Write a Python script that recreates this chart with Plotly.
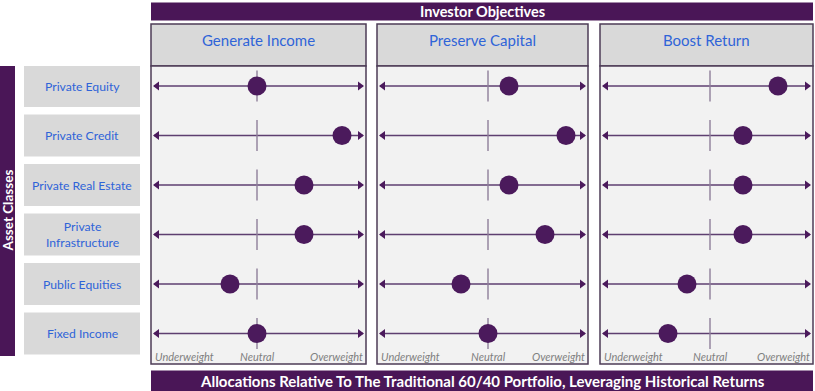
import plotly.graph_objects as go

# ---------------- data ----------------
asset_classes = ["Private Equity", "Private Credit", "Private Real Estate",
                 "Private<br>Infrastructure", "Public Equities", "Fixed Income"]
objectives = ["Generate Income", "Preserve Capital", "Boost Return"]
# allocation relative to neutral (0); ~1 = overweight end, ~-1 = underweight end
generate_income = [0.0, 0.85, 0.47, 0.47, -0.27, 0.0]
preserve_capital = [0.21, 0.78, 0.21, 0.57, -0.27, 0.0]
boost_return = [0.68, 0.33, 0.33, 0.33, -0.23, -0.42]
scale_labels = ["Underweight", "Neutral", "Overweight"]
top_title = "Investor Objectives"
bottom_title = "Allocations Relative To The Traditional 60/40 Portfolio, Leveraging Historical Returns"
side_title = "Asset Classes"

values = [generate_income, preserve_capital, boost_return]

# ---------------- layout helpers ----------------
W, H = 815, 391
def px(x):
    return x / W
def py(y):
    return 1 - y / H

PURPLE = "#4a1657"
DOT = "#4b1a5c"
LINE = "#5e3f70"
TICK = "#8f7f9a"
BLUE = "#2f64d8"
HEADER_BG = "#d9d9d9"
BODY_BG = "#f2f2f2"
BORDER = "#4d3d57"
FONT = "Lato"

panels = [(151, 366, 257), (377, 588, 488), (600, 813, 710)]  # left, right, neutral (px)
body_top, body_bot = 66, 364
head_top = 24
row0, row_step = 86, 49.5
yr = [5 + (body_bot - (row0 + 5 * row_step)) / row_step, -(row0 - body_top) / row_step]

fig = go.Figure()
shapes = []
annotations = []

def ann(**kw):
    kw.setdefault("showarrow", False)
    kw.setdefault("xanchor", "center")
    kw.setdefault("yanchor", "middle")
    annotations.append(kw)

# bars
shapes.append(dict(type="rect", xref="paper", yref="paper", x0=px(151), x1=px(813),
                   y0=py(20.5), y1=py(2.5), fillcolor=PURPLE, line_width=0, layer="below"))
shapes.append(dict(type="rect", xref="paper", yref="paper", x0=px(151), x1=px(813),
                   y0=py(391), y1=py(370.5), fillcolor=PURPLE, line_width=0, layer="below"))
shapes.append(dict(type="rect", xref="paper", yref="paper", x0=px(0), x1=px(15),
                   y0=py(356), y1=py(66), fillcolor=PURPLE, line_width=0, layer="below"))
ann(text="<b>" + top_title + "</b>", xref="paper", yref="paper", x=px(482), y=py(11.5),
    font=dict(family=FONT, size=14.5, color="white"))
ann(text="<b>" + bottom_title + "</b>", xref="paper", yref="paper", x=px(482), y=py(380.5),
    font=dict(family=FONT, size=15, color="white"))
ann(text="<b>" + side_title + "</b>", xref="paper", yref="paper", x=px(7.5), y=py(211),
    textangle=-90, font=dict(family=FONT, size=13.5, color="white"))

# row label boxes
for i, name in enumerate(asset_classes):
    shapes.append(dict(type="rect", xref="paper", yref="y", x0=px(24), x1=px(140),
                       y0=i - 0.425, y1=i + 0.425, fillcolor=HEADER_BG, line_width=0,
                       layer="below"))
    ann(text=name, xref="paper", yref="y", x=px(82), y=i,
        font=dict(family=FONT, size=12.2, color=BLUE))

layout_axes = {}
for k, ((left, right, neut), title, vals) in enumerate(zip(panels, objectives, values)):
    xa = "x" if k == 0 else f"x{k+1}"
    xname = "xaxis" if k == 0 else f"xaxis{k+1}"
    rng = [(left - neut) / 100, (right - neut) / 100]
    layout_axes[xname] = dict(domain=[px(left), px(right)], range=rng, visible=False,
                              fixedrange=True)
    # header + body
    shapes.append(dict(type="rect", xref="paper", yref="paper", x0=px(left), x1=px(right),
                       y0=py(body_top), y1=py(head_top), fillcolor=HEADER_BG,
                       line=dict(color=BORDER, width=1.5), layer="below"))
    shapes.append(dict(type="rect", xref="paper", yref="paper", x0=px(left), x1=px(right),
                       y0=py(body_bot), y1=py(body_top), fillcolor=BODY_BG,
                       line=dict(color=BORDER, width=1.5), layer="below"))
    ann(text=title, xref="paper", yref="paper", x=(px(left) + px(right)) / 2, y=py(40),
        font=dict(family=FONT, size=15, color=BLUE))
    # scale labels
    ann(text="<i>" + scale_labels[0] + "</i>", xref="paper", yref="paper",
        x=px(left + 2), y=py(356), xanchor="left",
        font=dict(family=FONT, size=11, color="#808080"))
    ann(text="<i>" + scale_labels[1] + "</i>", xref=xa, yref="paper",
        x=0, y=py(356), font=dict(family=FONT, size=11, color="#808080"))
    ann(text="<i>" + scale_labels[2] + "</i>", xref="paper", yref="paper",
        x=px(right - 1), y=py(356), xanchor="right",
        font=dict(family=FONT, size=11, color="#808080"))
    lo, hi = rng[0] + 0.03, rng[1] - 0.03
    for i, name in enumerate(asset_classes):
        # arrow line
        fig.add_trace(go.Scatter(x=[lo, hi], y=[i, i], xaxis=xa, yaxis="y", mode="lines",
                                 line=dict(color=LINE, width=1.3), hoverinfo="skip",
                                 showlegend=False))
        fig.add_trace(go.Scatter(x=[lo + 0.03, hi - 0.03], y=[i, i], xaxis=xa, yaxis="y",
                                 mode="markers",
                                 marker=dict(symbol=["triangle-left", "triangle-right"],
                                             size=8, color=DOT, line_width=0),
                                 hoverinfo="skip", showlegend=False))
        # neutral tick
        fig.add_trace(go.Scatter(x=[0], y=[i], xaxis=xa, yaxis="y", mode="markers",
                                 marker=dict(symbol="line-ns", size=22,
                                             line=dict(color=TICK, width=1.4)),
                                 hoverinfo="skip", showlegend=False))
    # dots
    fig.add_trace(go.Scatter(x=vals, y=list(range(len(asset_classes))), xaxis=xa, yaxis="y",
                             mode="markers", marker=dict(size=19, color=DOT),
                             text=[a.replace("<br>", " ") for a in asset_classes],
                             hovertemplate="%{text}: %{x}<extra>" + title + "</extra>",
                             showlegend=False))

fig.update_layout(
    width=W, height=H, margin=dict(l=0, r=0, t=0, b=0),
    paper_bgcolor="white", plot_bgcolor="rgba(0,0,0,0)",
    shapes=shapes, annotations=annotations,
    yaxis=dict(domain=[py(body_bot), py(body_top)], range=yr, visible=False, fixedrange=True),
    **layout_axes,
)
fig.write_html("out.html")
